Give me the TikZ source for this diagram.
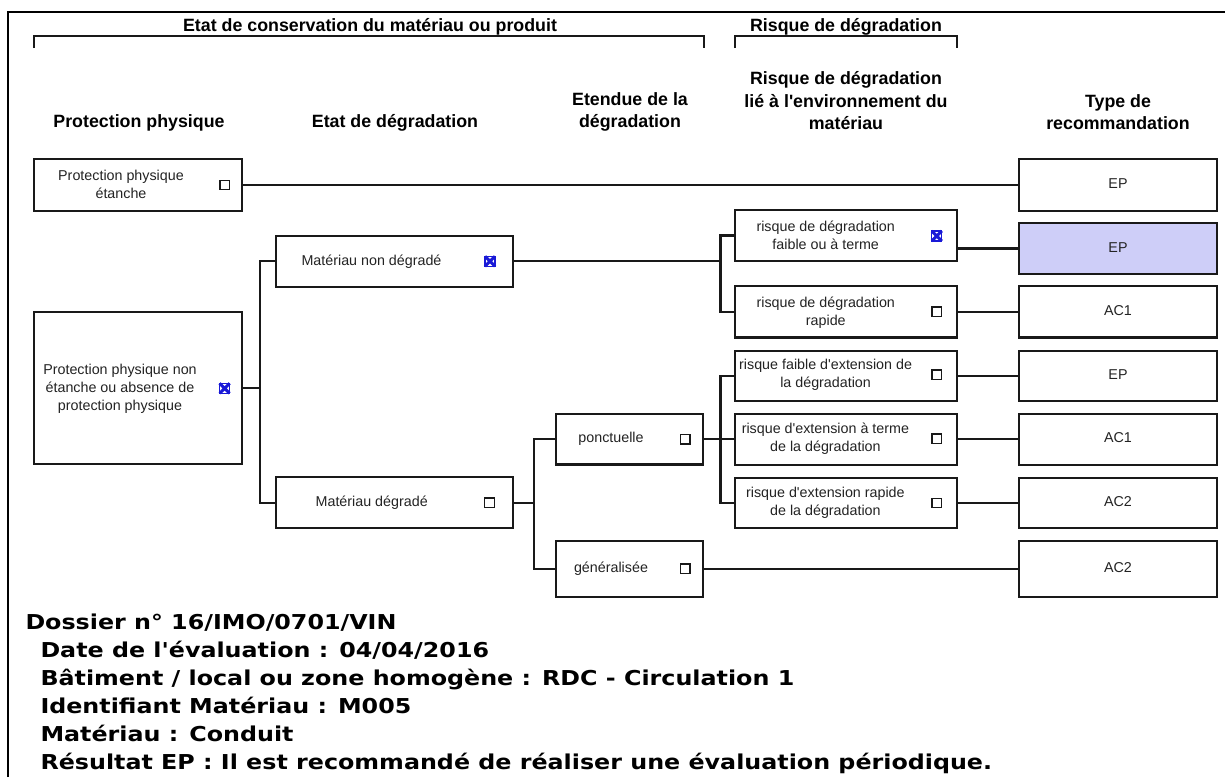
\documentclass[tikz,border=0pt]{standalone}
\usepackage{fontspec}
\setmainfont{Liberation Sans}
\newfontfamily\arialf{Liberation Sans}
\newfontfamily\verdfont{DejaVu Sans}[FakeStretch=1.16]
\definecolor{linec}{RGB}{25,25,25}
\definecolor{textc}{RGB}{35,35,35}
\definecolor{checkblue}{RGB}{25,25,215}
\definecolor{lav}{RGB}{206,206,248}
\tikzset{
  frame/.style={draw=black, line width=2.5pt},
  brk/.style={draw=linec, line width=2.2pt},
  box/.style={draw=linec, line width=2.2pt, fill=white, inner sep=0, outer sep=0},
  conn/.style={draw=linec, line width=2.1pt},
  cbox/.style={draw=linec, line width=1.3pt, minimum size=9.5pt, inner sep=0, outer sep=0},
  cboxon/.style={draw=checkblue, line width=1.2pt, minimum size=10pt, inner sep=0, outer sep=0},
  xmark/.style={draw=checkblue, line width=3pt},
  lbl/.style={inner sep=0, outer sep=0, text=textc, font=\arialf\fontsize{14.3}{18}\selectfont, align=center},
  lblone/.style={inner sep=0, outer sep=0, text=textc, font=\arialf\fontsize{14.3}{18}\selectfont, text height=10.3pt, text depth=3pt},
  hdr/.style={inner sep=0, outer sep=0, text=black, font=\arialf\fontsize{17.8}{22.6}\selectfont\bfseries, align=center},
  hdrone/.style={inner sep=0, outer sep=0, text=black, font=\arialf\fontsize{17.8}{22.6}\selectfont\bfseries, text height=12.8pt, text depth=3.8pt},
  foot/.style={inner sep=0, outer sep=0, anchor=base west, text=black, font=\verdfont\bfseries\fontsize{20.5}{28}\selectfont}
}
\begin{document}
\begin{tikzpicture}[x=1pt,y=-1pt]
\useasboundingbox (0,0) rectangle (1225,777);
% page frame
\draw[frame] (8,777) -- (8,12) -- (1225,12);
% group brackets
\draw[brk] (33.6,48) -- (33.6,36) -- (703.6,36) -- (703.6,48);
\draw[brk] (734.7,48) -- (734.7,36) -- (956.7,36) -- (956.7,48);
\node[hdrone] (t1) at (370,26.5) {Etat de conservation du matériau ou produit};
\node[hdrone] (t2) at (846,26.5) {Risque de dégradation};
% column headers
\node[hdrone] (h1) at (139,123.3) {Protection physique};
\node[hdrone] (h2) at (395,123.3) {Etat de dégradation};
\node[hdr] (h3) at (630,112) {Etendue de la\\dégradation};
\node[hdr] (h4) at (846,100.7) {Risque de dégradation\\lié à l'environnement du\\matériau};
\node[hdr] (h5) at (1118,112) {Type de\\recommandation};
% boxes
\node[box, minimum width=208pt, minimum height=51.4pt] (ppe) at (138,185) {};
\node[box, minimum width=208pt, minimum height=152pt] (ppne) at (138,388.3) {};
\node[box, minimum width=237pt, minimum height=50.7pt] (mnd) at (394.5,261.35) {};
\node[box, minimum width=237pt, minimum height=51pt] (md) at (394.5,502.8) {};
\node[box, minimum width=147pt, minimum height=50.3pt] (ponc) at (629.5,439.3) {};
\node[box, minimum width=147pt, minimum height=55.7pt] (gen) at (629.5,568.85) {};
\node[box, minimum width=222pt, minimum height=51pt] (rf) at (846,235.5) {};
\node[box, minimum width=222pt, minimum height=51.5pt] (rr) at (846,311.75) {};
\node[box, minimum width=222pt, minimum height=50.3pt] (ef) at (846,375.85) {};
\node[box, minimum width=222pt, minimum height=50.7pt] (et) at (846,439.3) {};
\node[box, minimum width=222pt, minimum height=50.6pt] (er) at (846,503) {};
\node[box, minimum width=198pt, minimum height=51.4pt] (r1) at (1118,185) {};
\node[box, fill=lav, minimum width=198pt, minimum height=51.6pt] (r2) at (1118,248.5) {};
\node[box, minimum width=198pt, minimum height=51.5pt] (r3) at (1118,311.75) {};
\node[box, minimum width=198pt, minimum height=50.3pt] (r4) at (1118,375.85) {};
\node[box, minimum width=198pt, minimum height=50.7pt] (r5) at (1118,439.3) {};
\node[box, minimum width=198pt, minimum height=50.6pt] (r6) at (1118,503) {};
\node[box, minimum width=198pt, minimum height=55.7pt] (r7) at (1118,568.85) {};
% connectors
\draw[conn] (ppe.east) -- (r1.west);
\coordinate (j1) at (260,388.3);
\draw[conn] (ppne.east) -- (j1);
\draw[conn] (mnd.west) -- (mnd.west -| j1) -- (md.west -| j1) -- (md.west);
\coordinate (j2) at (534,502.8);
\draw[conn] (md.east) -- (j2);
\draw[conn] (ponc.west) -- (ponc.west -| j2) -- (gen.west -| j2) -- (gen.west);
\coordinate (j3) at (720.5,439.3);
\draw[conn] (ponc.east) -- (et.west);
\draw[conn] (ef.west) -- (ef.west -| j3) -- (er.west -| j3) -- (er.west);
\coordinate (j4) at (720.5,261.35);
\draw[conn] (mnd.east) -- (j4);
\draw[conn] (rf.west) -- (rf.west -| j4) -- (rr.west -| j4) -- (rr.west);
\draw[conn] (rf.east |- r2.west) -- (r2.west);
\draw[conn] (rr.east) -- (r3.west);
\draw[conn] (ef.east) -- (r4.west);
\draw[conn] (et.east) -- (r5.west);
\draw[conn] (er.east) -- (r6.west);
\draw[conn] (gen.east) -- (r7.west);
% labels
\node[lbl] (l1) at (121,184.8) {Protection physique\\étanche};
\node[lbl] (l2) at (120,388.3) {Protection physique non\\étanche ou absence de\\protection physique};
\node[lblone] (l3) at (371.5,261.35) {Matériau non dégradé};
\node[lblone] (l4) at (371.7,502.8) {Matériau dégradé};
\node[lblone] (l5) at (611,439.3) {ponctuelle};
\node[lblone] (l6) at (611,568.85) {généralisée};
\node[lbl] (l7) at (825.7,235.5) {risque de dégradation\\faible ou à terme};
\node[lbl] (l8) at (825.8,312.5) {risque de dégradation\\rapide};
\node[lbl] (l9) at (825.6,375) {risque faible d'extension de\\la dégradation};
\node[lbl] (l10) at (825.4,438.8) {risque d'extension à terme\\de la dégradation};
\node[lbl] (l11) at (825.4,502.3) {risque d'extension rapide\\de la dégradation};
\node[lblone] (e1) at (1118,185) {EP};
\node[lblone] (e2) at (1118,248.5) {EP};
\node[lblone] (e3) at (1118,311.75) {AC1};
\node[lblone] (e4) at (1118,375.85) {EP};
\node[lblone] (e5) at (1118,439.3) {AC1};
\node[lblone] (e6) at (1118,503) {AC2};
\node[lblone] (e7) at (1118,568.85) {AC2};
% checkboxes
\node[cbox] (c1) at (224.6,185) {};
\node[cboxon] (c2) at (224.6,388.3) {};
\draw[xmark] (c2.north west) -- (c2.south east) (c2.north east) -- (c2.south west);
\node[cboxon] (c3) at (490,261.35) {};
\draw[xmark] (c3.north west) -- (c3.south east) (c3.north east) -- (c3.south west);
\node[cbox] (c4) at (489.5,502.8) {};
\node[cbox] (c5) at (685.3,439.3) {};
\node[cbox] (c6) at (685.3,568.85) {};
\node[cboxon] (c7) at (936.8,236) {};
\draw[xmark] (c7.north west) -- (c7.south east) (c7.north east) -- (c7.south west);
\node[cbox] (c8) at (936.8,311.75) {};
\node[cbox] (c9) at (936.8,374.8) {};
\node[cbox] (c10) at (936.8,438.8) {};
\node[cbox] (c11) at (936.8,503) {};
% footer text
\node[foot] (f1) at (25.5,629) {Dossier n° 16/IMO/0701/VIN};
\node[foot] (f2) at (40.5,657) {Date de l'évaluation : 04/04/2016};
\node[foot] (f3) at (40.5,685) {Bâtiment / local ou zone homogène : RDC - Circulation 1};
\node[foot] (f4) at (40.5,713) {Identifiant Matériau : M005};
\node[foot] (f5) at (40.5,741) {Matériau : Conduit};
\node[foot] (f6) at (40.5,769) {Résultat EP : Il est recommandé de réaliser une évaluation périodique.};
\end{tikzpicture}
\end{document}
